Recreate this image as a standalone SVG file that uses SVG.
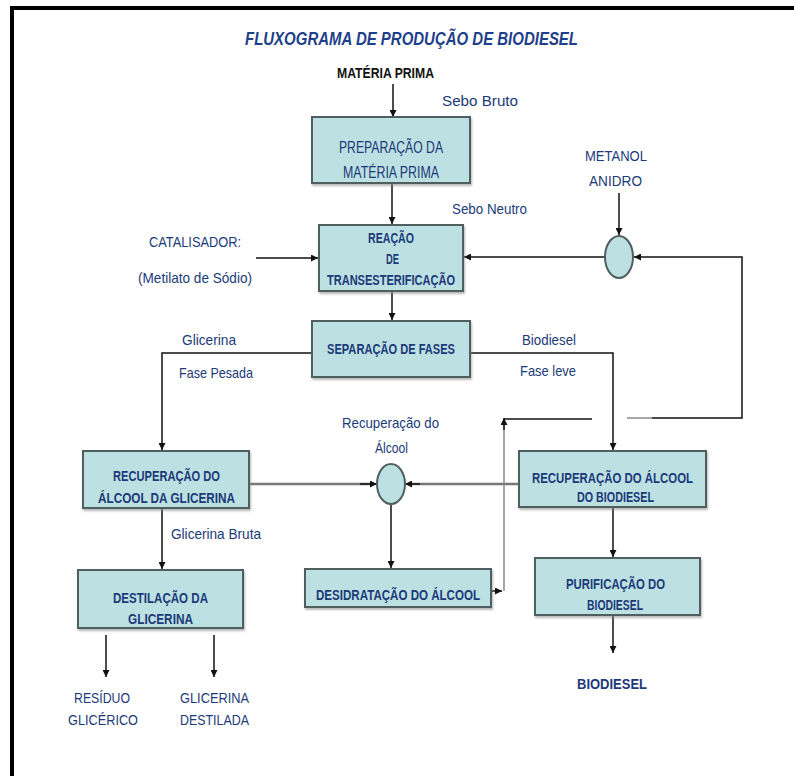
<svg xmlns="http://www.w3.org/2000/svg" width="794" height="776" viewBox="0 0 794 776">
<defs>
<style>
text{font-family:"Liberation Sans","DejaVu Sans",sans-serif;fill:#1b3a78;}
.lbl{font-size:15px;}
.box{fill:#bde0e3;stroke:#4f5f60;stroke-width:2;}
.bt{font-size:14px;font-weight:bold;}
.br{font-size:16px;}
.c{fill:none;stroke:#111;stroke-width:1.5;}
.g{fill:none;stroke:#777;stroke-width:2.5;}
.g2{fill:none;stroke:#888;stroke-width:1.5;}
</style>
<marker id="ah" viewBox="0 0 10 10" refX="10" refY="5" markerWidth="7" markerHeight="7" markerUnits="userSpaceOnUse" orient="auto"><path d="M0,0 L10,5 L0,10 z" fill="#111"/></marker>
<filter id="sh" x="-5%" y="-5%" width="110%" height="115%"><feDropShadow dx="1" dy="2" stdDeviation="1" flood-color="#888" flood-opacity="0.6"/></filter>
</defs>
<rect width="794" height="776" fill="#fff"/>
<path d="M12,776 V8 H794" fill="none" stroke="#000" stroke-width="4"/>

<text x="245" y="45" font-size="19" font-weight="bold" font-style="italic" style="fill:#1e3f8a" textLength="333" lengthAdjust="spacingAndGlyphs">FLUXOGRAMA DE PRODUÇÃO DE BIODIESEL</text>

<g id="connectors">
<path class="c" d="M393,84 V117" marker-end="url(#ah)"/>
<path class="c" d="M392,183 V224" marker-end="url(#ah)"/>
<path class="c" d="M256,258 H318" marker-end="url(#ah)"/>
<path class="c" d="M619,193 V235" marker-end="url(#ah)"/>
<path class="c" stroke="#444" d="M605,257 H464" marker-end="url(#ah)"/>
<path class="c" d="M652,418 H742 V257 H634" marker-end="url(#ah)"/>
<path class="g2" d="M627,418 H652"/>
<path class="c" d="M392,291 V320" marker-end="url(#ah)"/>
<path class="c" d="M312,353 H162 V450" marker-end="url(#ah)"/>
<path class="c" d="M470,353 H613 V450" marker-end="url(#ah)"/>
<path class="g" d="M249,484 H370"/>
<path class="c" d="M360,484 H377" marker-end="url(#ah)"/>
<path class="g" d="M519,484 H412"/>
<path class="c" d="M420,484 H405" marker-end="url(#ah)"/>
<path class="c" d="M391,505 V568" marker-end="url(#ah)"/>
<path class="c" d="M162,508 V569" marker-end="url(#ah)"/>
<path class="c" d="M491,591 H502" marker-end="url(#ah)"/>
<path class="g2" d="M504,591 V425"/>
<path class="c" d="M504,430 V418" marker-end="url(#ah)"/>
<path class="c" d="M504,419 H592"/>
<path class="c" d="M613,507 V557" marker-end="url(#ah)"/>
<path class="c" d="M613,615 V653" marker-end="url(#ah)"/>
<path class="c" d="M106,635 V677" marker-end="url(#ah)"/>
<path class="c" d="M214,635 V677" marker-end="url(#ah)"/>
</g>

<g id="labels">
<text x="337" y="78" font-size="14" font-weight="bold" style="fill:#111" textLength="97" lengthAdjust="spacingAndGlyphs">MATÉRIA PRIMA</text>
<text class="lbl" x="442" y="106" textLength="76" lengthAdjust="spacingAndGlyphs">Sebo Bruto</text>
<text class="lbl" x="452" y="214" textLength="75" lengthAdjust="spacingAndGlyphs">Sebo Neutro</text>
<text class="lbl" x="149" y="247" textLength="92" lengthAdjust="spacingAndGlyphs">CATALISADOR:</text>
<text class="lbl" x="138" y="283" textLength="114" lengthAdjust="spacingAndGlyphs">(Metilato de Sódio)</text>
<text class="lbl" x="585" y="161" textLength="62" lengthAdjust="spacingAndGlyphs">METANOL</text>
<text class="lbl" x="589" y="186" textLength="53" lengthAdjust="spacingAndGlyphs">ANIDRO</text>
<text class="lbl" x="182" y="345" textLength="54" lengthAdjust="spacingAndGlyphs">Glicerina</text>
<text class="lbl" x="179" y="378" textLength="74" lengthAdjust="spacingAndGlyphs">Fase Pesada</text>
<text class="lbl" x="522" y="345" textLength="54" lengthAdjust="spacingAndGlyphs">Biodiesel</text>
<text class="lbl" x="520" y="376" textLength="56" lengthAdjust="spacingAndGlyphs">Fase leve</text>
<text class="lbl" x="342" y="428" textLength="97" lengthAdjust="spacingAndGlyphs">Recuperação do</text>
<text class="lbl" x="375" y="453" textLength="33" lengthAdjust="spacingAndGlyphs">Álcool</text>
<text class="lbl" x="171" y="539" textLength="90" lengthAdjust="spacingAndGlyphs">Glicerina Bruta</text>
<text class="lbl" x="74" y="703" textLength="56" lengthAdjust="spacingAndGlyphs">RESÍDUO</text>
<text class="lbl" x="68" y="725" textLength="70" lengthAdjust="spacingAndGlyphs">GLICÉRICO</text>
<text class="lbl" x="180" y="703" textLength="69" lengthAdjust="spacingAndGlyphs">GLICERINA</text>
<text class="lbl" x="180" y="725" textLength="69" lengthAdjust="spacingAndGlyphs">DESTILADA</text>
<text x="577" y="689" font-size="15" font-weight="bold" textLength="70" lengthAdjust="spacingAndGlyphs">BIODIESEL</text>
</g>

<g id="preparacao">
<rect class="box" x="312" y="117" width="158" height="66" filter="url(#sh)"/>
<text class="br" x="339" y="153" textLength="104" lengthAdjust="spacingAndGlyphs">PREPARAÇÃO DA</text>
<text class="br" x="343" y="178" textLength="96" lengthAdjust="spacingAndGlyphs">MATÉRIA PRIMA</text>
</g>

<g id="reacao">
<rect class="box" x="319" y="225" width="144" height="66" filter="url(#sh)"/>
<text class="bt" x="368" y="243" textLength="46" lengthAdjust="spacingAndGlyphs">REAÇÃO</text>
<text class="bt" x="386" y="264" textLength="13" lengthAdjust="spacingAndGlyphs">DE</text>
<text class="bt" x="327" y="285" textLength="128" lengthAdjust="spacingAndGlyphs">TRANSESTERIFICAÇÃO</text>
</g>

<g id="metanol-mix">
<ellipse cx="619" cy="257" rx="14" ry="21" fill="#bde0e3" stroke="#4f5f60" stroke-width="2"/>
</g>

<g id="separacao">
<rect class="box" x="312" y="321" width="158" height="56" filter="url(#sh)"/>
<text class="bt" x="327" y="354" textLength="128" lengthAdjust="spacingAndGlyphs">SEPARAÇÃO DE FASES</text>
</g>

<g id="rec-glicerina">
<rect class="box" x="83" y="451" width="166" height="57" filter="url(#sh)"/>
<text class="bt" x="113" y="481" textLength="107" lengthAdjust="spacingAndGlyphs">RECUPERAÇÃO DO</text>
<text class="bt" x="98" y="503" textLength="137" lengthAdjust="spacingAndGlyphs">ÁLCOOL DA GLICERINA</text>
</g>

<g id="rec-alcool">
<ellipse cx="391" cy="484" rx="14" ry="20" fill="#bde0e3" stroke="#4f5f60" stroke-width="2"/>
</g>

<g id="rec-biodiesel">
<rect class="box" x="519" y="451" width="187" height="56" filter="url(#sh)"/>
<text class="bt" x="532" y="483" textLength="161" lengthAdjust="spacingAndGlyphs">RECUPERAÇÃO DO ÁLCOOL</text>
<text class="bt" x="577" y="502" textLength="77" lengthAdjust="spacingAndGlyphs">DO BIODIESEL</text>
</g>

<g id="desidratacao">
<rect class="box" x="305" y="569" width="186" height="38" filter="url(#sh)"/>
<text class="bt" x="316" y="600" textLength="164" lengthAdjust="spacingAndGlyphs">DESIDRATAÇÃO DO ÁLCOOL</text>
</g>

<g id="destilacao">
<rect class="box" x="78" y="570" width="165" height="58" filter="url(#sh)"/>
<text class="bt" x="113" y="603" textLength="95" lengthAdjust="spacingAndGlyphs">DESTILAÇÃO DA</text>
<text class="bt" x="128" y="624" textLength="65" lengthAdjust="spacingAndGlyphs">GLICERINA</text>
</g>

<g id="purificacao">
<rect class="box" x="535" y="558" width="165" height="57" filter="url(#sh)"/>
<text class="bt" x="566" y="589" textLength="99" lengthAdjust="spacingAndGlyphs">PURIFICAÇÃO DO</text>
<text class="bt" x="587" y="610" textLength="56" lengthAdjust="spacingAndGlyphs">BIODIESEL</text>
</g>
</svg>
